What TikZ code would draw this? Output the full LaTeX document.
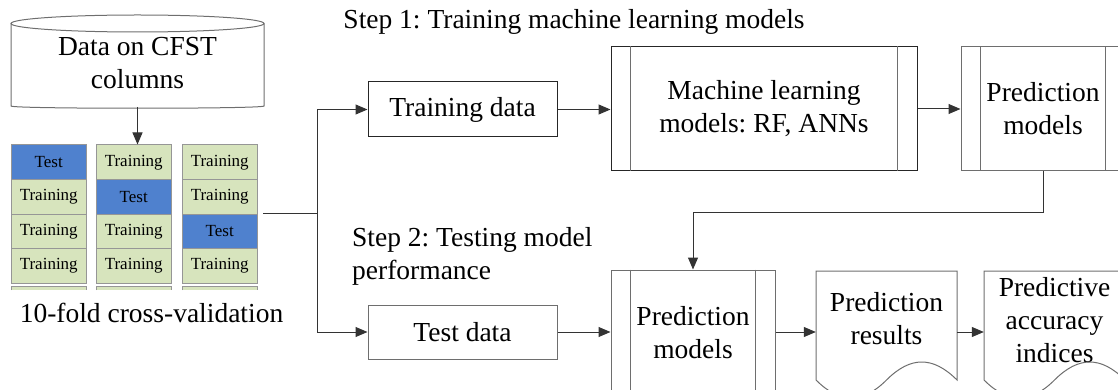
\documentclass[tikz,border=0pt]{standalone}
\usepackage{fontspec}
\setmainfont{Liberation Serif}
\usetikzlibrary{arrows.meta,calc}
\definecolor{cellblue}{RGB}{79,129,206}
\definecolor{cellgreen}{RGB}{215,228,189}
\definecolor{cellline}{RGB}{150,150,150}
\definecolor{boxline}{RGB}{110,110,110}
\tikzset{
  big/.style={font=\frenchspacing\fontsize{27.5}{33}\selectfont, align=center, inner sep=0pt},
  small/.style={font=\fontsize{17}{20}\selectfont},
  cell/.style={small, draw=cellline, line width=1pt, minimum width=75.5pt, minimum height=34.5pt, inner sep=0pt},
  plainbox/.style={big, draw=boxline, line width=1pt},
  procbox/.style={big, draw=boxline, line width=1pt},
  docshape/.style={draw=boxline, line width=1pt},
  conn/.style={line width=1pt, black!80},
  arr/.style={conn, -{Triangle[length=12pt,width=10pt]}},
}
\begin{document}
\frenchspacing
\begin{tikzpicture}[x=1pt,y=-1pt]
\useasboundingbox (0,0) rectangle (1118,390);
% cylinder
\draw[docshape] (11,23.5) -- (11,106) .. controls (11,109) and (264,109) .. (264,106) -- (264,23.5);
\draw[docshape] (137.5,23.5) ellipse [x radius=126.5, y radius=8.5];
\node[big] (cyl) at (137.5,63.5) {Data on CFST\\columns};
% grid
\foreach \i/\cx in {1/48.75,2/133.75,3/219.75}{
  \foreach \j/\cy in {1/162.25,2/196.75,3/231.25,4/265.75}{
    \ifnum\i=\j
      \node[cell, fill=cellblue] (c\i r\j) at (\cx,\cy) {Test};
    \else
      \node[cell, fill=cellgreen] (c\i r\j) at (\cx,\cy) {Training};
    \fi
  }
  \fill[cellgreen] (\cx-37.75,286) rectangle (\cx+37.75,290);
  \draw[cellline, line width=1pt] (\cx-37.75,290) -- (\cx-37.75,286) -- (\cx+37.75,286) -- (\cx+37.75,290);
}
\node[big] (cv) at (151.5,312.5) {10-fold cross-validation};
% step labels
\node[big] (step1) at (574,22) {Step 1: Training machine learning models};
\node[big, anchor=west, align=left] (step2) at (352,256) {Step 2: Testing model\\performance};
% boxes
\node[plainbox, draw=black!85, minimum width=189pt, minimum height=55pt] (train) at (462.5,109.5) {Training data};
\node[plainbox, minimum width=189pt, minimum height=54pt] (test) at (462.5,332) {Test data};
\node[procbox, draw=black!85, minimum width=306pt, minimum height=124pt] (ml) at (764,109) {Machine learning\\models: RF, ANNs};
\node[procbox, minimum width=164pt, minimum height=124pt] (pm1) at (1043,109) {Prediction\\models};
\node[procbox, minimum width=164pt, minimum height=126pt] (pm2) at (693,333) {Prediction\\models};
\foreach \n in {ml,pm1,pm2}{
  \draw[docshape] ([xshift=20pt]\n.north west) -- ([xshift=20pt]\n.south west);
  \draw[docshape] ([xshift=-20pt]\n.north east) -- ([xshift=-20pt]\n.south east);
}
% documents
\node[minimum width=141pt, minimum height=122pt, inner sep=0pt] (res) at (886.5,332) {};
\node[big] (restext) at (886.5,319) {Prediction\\results};
\node[minimum width=141pt, minimum height=122pt, inner sep=0pt] (acc) at (1054.5,332) {};
\node[big] (acctext) at (1054.5,320) {Predictive\\accuracy\\indices};
\foreach \n/\l in {res/816,acc/984}{
  \draw[docshape] (\l,380) -- (\l,271) -- (\l+141,271) -- (\l+141,380)
    .. controls (\l+117,356) and (\l+94.5,356) .. (\l+70.5,380)
    .. controls (\l+46.5,404) and (\l+24,404) .. (\l,380);
}
% connectors
\draw[arr] (cyl.south |- 0,107) -- (cyl.south |- c2r1.north);
\coordinate (gridout) at (263,213);
\coordinate (split) at (317,213);
\draw[conn] (gridout) -- (split);
\draw[arr] (split) |- (train.west);
\draw[arr] (split) |- (test.west);
\draw[arr] (train.east) -- (ml.west |- train.east);
\draw[arr] (ml.east) -- (pm1.west);
\coordinate (turn) at (1043,212);
\draw[arr] (pm1.south) -- (turn) -| (pm2.north);
\draw[arr] (test.east) -- (pm2.west |- test.east);
\draw[arr] (pm2.east |- 0,332) -- (res.west);
\draw[arr] (res.east) -- (acc.west);
\end{tikzpicture}
\end{document}
